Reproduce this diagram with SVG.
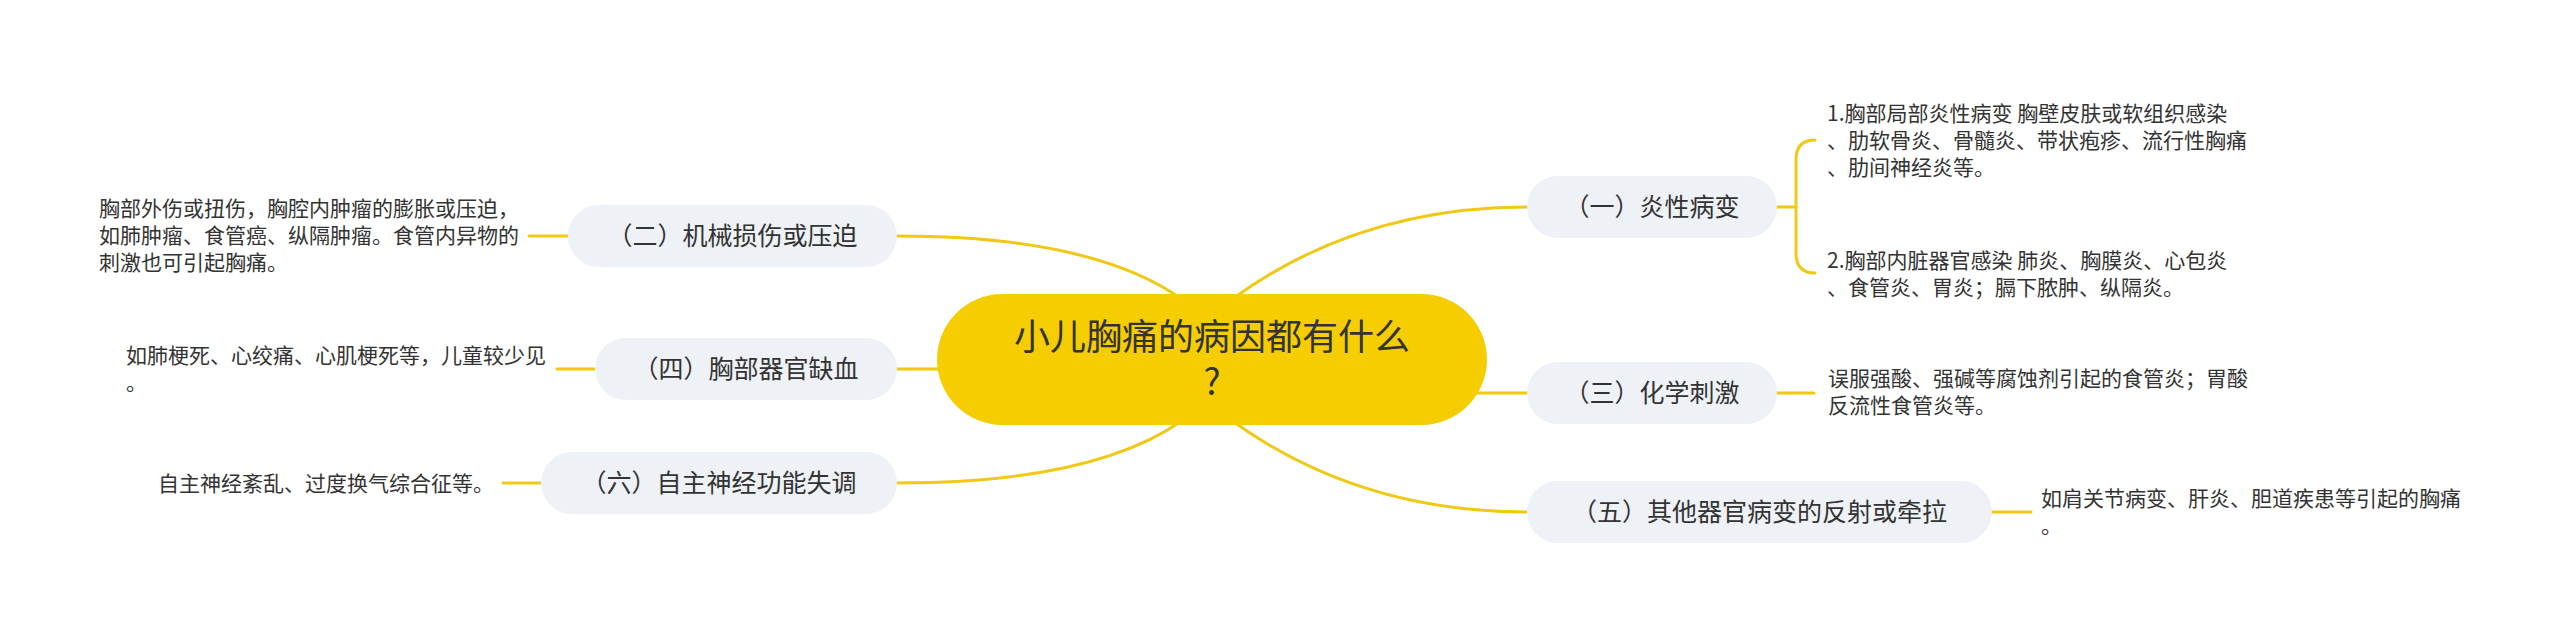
<svg xmlns="http://www.w3.org/2000/svg" width="2560" height="639" viewBox="0 0 2560 639">
<style>
.bg{fill:#ffffff}
.ln{fill:none;stroke:#F1C814;stroke-width:3;stroke-linecap:round}
.nd{fill:#EEF1F5}
.root{fill:#F5CD00}
.t{font-family:"Noto Sans CJK SC","Noto Sans",sans-serif;fill:#333333}
.rt{font-size:36px;text-anchor:middle}
.nt{font-size:25px;text-anchor:middle}
.lt{font-size:21px}
</style>
<rect class="bg" x="0" y="0" width="2560" height="639"/>
<g id="connectors">
<path class="ln" d="M1231,300 Q1358,207 1527,207"/>
<path class="ln" d="M1470,393 L1527,393"/>
<path class="ln" d="M1231,420 Q1358,512 1527,512"/>
<path class="ln" d="M1183,300 Q1094,236 897,236"/>
<path class="ln" d="M945,369 L897,369"/>
<path class="ln" d="M1183,420 Q1094,483 897,483"/>
<path class="ln" d="M1777,207 L1796,207"/>
<path class="ln" d="M1815,140 Q1796,140 1796,160 L1796,253 Q1796,273 1815,273"/>
<path class="ln" d="M1777,393 L1814,393"/>
<path class="ln" d="M1992,512 L2031,512"/>
<path class="ln" d="M568,236 L529,236"/>
<path class="ln" d="M595,369 L557,369"/>
<path class="ln" d="M541,483 L503,483"/>
</g>
<g id="root">
<rect class="root" x="937" y="294" width="550" height="131" rx="65.5"/>
<text class="t rt" x="1212" y="350">小儿胸痛的病因都有什么</text>
<text class="t rt" x="1212" y="395">?</text>
</g>
<g id="n1">
<rect class="nd" x="1527" y="176" width="250" height="62" rx="31"/>
<text class="t nt" x="1652" y="216">（一）炎性病变</text>
</g>
<g id="n3">
<rect class="nd" x="1527" y="362" width="250" height="62" rx="31"/>
<text class="t nt" x="1652" y="402">（三）化学刺激</text>
</g>
<g id="n5">
<rect class="nd" x="1527" y="481" width="465" height="62" rx="31"/>
<text class="t nt" x="1759.5" y="521">（五）其他器官病变的反射或牵拉</text>
</g>
<g id="n2">
<rect class="nd" x="568" y="205" width="329" height="62" rx="31"/>
<text class="t nt" x="732.5" y="245">（二）机械损伤或压迫</text>
</g>
<g id="n4">
<rect class="nd" x="595" y="338" width="302" height="62" rx="31"/>
<text class="t nt" x="746" y="378">（四）胸部器官缺血</text>
</g>
<g id="n6">
<rect class="nd" x="541" y="452" width="356" height="62" rx="31"/>
<text class="t nt" x="719" y="492">（六）自主神经功能失调</text>
</g>
<g id="leaf1a">
<text class="t lt" x="1827" y="121">1.胸部局部炎性病变 胸壁皮肤或软组织感染</text>
<text class="t lt" x="1827" y="148">、肋软骨炎、骨髓炎、带状疱疹、流行性胸痛</text>
<text class="t lt" x="1827" y="175">、肋间神经炎等。</text>
</g>
<g id="leaf1b">
<text class="t lt" x="1827" y="268">2.胸部内脏器官感染 肺炎、胸膜炎、心包炎</text>
<text class="t lt" x="1827" y="295">、食管炎、胃炎；膈下脓肿、纵隔炎。</text>
</g>
<g id="leaf3">
<text class="t lt" x="1828" y="386">误服强酸、强碱等腐蚀剂引起的食管炎；胃酸</text>
<text class="t lt" x="1828" y="413">反流性食管炎等。</text>
</g>
<g id="leaf5">
<text class="t lt" x="2041" y="506">如肩关节病变、肝炎、胆道疾患等引起的胸痛</text>
<text class="t lt" x="2041" y="533">。</text>
</g>
<g id="leaf2">
<text class="t lt" x="99" y="216">胸部外伤或扭伤，胸腔内肿瘤的膨胀或压迫，</text>
<text class="t lt" x="99" y="243">如肺肿瘤、食管癌、纵隔肿瘤。食管内异物的</text>
<text class="t lt" x="99" y="270">刺激也可引起胸痛。</text>
</g>
<g id="leaf4">
<text class="t lt" x="126" y="363">如肺梗死、心绞痛、心肌梗死等，儿童较少见</text>
<text class="t lt" x="126" y="390">。</text>
</g>
<g id="leaf6">
<text class="t lt" x="158" y="491">自主神经紊乱、过度换气综合征等。</text>
</g>
</svg>
